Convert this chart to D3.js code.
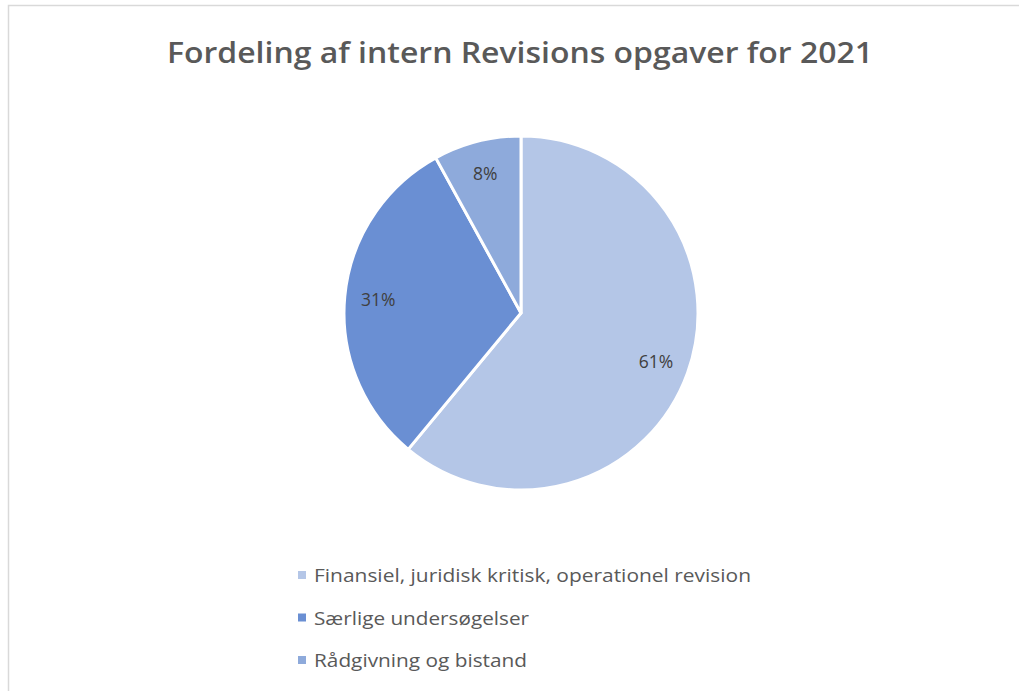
<!DOCTYPE html>
<html>
<head>
<meta charset="utf-8">
<script src="https://cdn.jsdelivr.net/npm/d3@7"></script>
<style>
  html, body { margin: 0; padding: 0; background: #fff; }
  svg { display: block; }
</style>
</head>
<body>
<svg id="chart" width="1019" height="691"></svg>
<script>
const title = "Fordeling af intern Revisions opgaver for 2021";
const categories = [
  "Finansiel, juridisk kritisk, operationel revision",
  "Særlige undersøgelser",
  "Rådgivning og bistand"
];
const values = [61, 31, 8];
const colors = ["#b4c6e7", "#6a8fd3", "#8eaadb"];

const W = 1019, H = 691;
const svg = d3.select("#chart");
const font = "Open Sans, Liberation Sans, sans-serif";

svg.append("rect").attr("width", W).attr("height", H).attr("fill", "#fff");
// chart border (top & left visible)
svg.append("path")
  .attr("d", "M8.5,691 V5.5 H1019")
  .attr("fill", "none").attr("stroke", "#d9d9d9").attr("stroke-width", 1.5);

svg.append("text")
  .attr("x", 520).attr("y", 63)
  .attr("text-anchor", "middle")
  .attr("font-family", font).attr("font-size", 28).attr("font-weight", 600)
  .attr("fill", "#595959")
  .attr("textLength", 706).attr("lengthAdjust", "spacingAndGlyphs")
  .text(title);

const cx = 521, cy = 313, r = 177;
const data = categories.map((c, i) => ({ cat: c, value: values[i], color: colors[i] }));
const pie = d3.pie().value(d => d.value).sort(null);
const arcs = pie(data);
const arc = d3.arc().innerRadius(0).outerRadius(r);
const labelArc = d3.arc().innerRadius(r * 0.81).outerRadius(r * 0.81);

const g = svg.append("g").attr("transform", `translate(${cx},${cy})`);
g.selectAll("path.slice").data(arcs).join("path")
  .attr("class", "slice")
  .attr("d", arc)
  .attr("fill", d => d.data.color)
  .attr("stroke", "#fff").attr("stroke-width", 3).attr("stroke-linejoin", "round");

g.selectAll("text.lbl").data(arcs).join("text")
  .attr("class", "lbl")
  .attr("transform", d => `translate(${labelArc.centroid(d)})`)
  .attr("text-anchor", "middle").attr("dy", "0.35em")
  .attr("font-family", font).attr("font-size", 17.5)
  .attr("fill", "#404040")
  .text(d => d.data.value + "%");

// legend
const lx = 298, ly0 = 576, dy = 42.5;
const leg = svg.append("g");
data.forEach((d, i) => {
  const y = ly0 + i * dy;
  leg.append("rect").attr("x", lx).attr("y", y - 5).attr("width", 8).attr("height", 8).attr("fill", d.color);
  leg.append("text").attr("x", lx + 16).attr("y", y).attr("dy", "0.35em")
    .attr("font-family", font).attr("font-size", 17.5).attr("fill", "#595959")
    .text(d.cat);
});
const legWidths = [437, 215, 213];
leg.selectAll("text").each(function(d, i) {
  d3.select(this).attr("textLength", legWidths[i]).attr("lengthAdjust", "spacingAndGlyphs");
});
</script>
</body>
</html>
